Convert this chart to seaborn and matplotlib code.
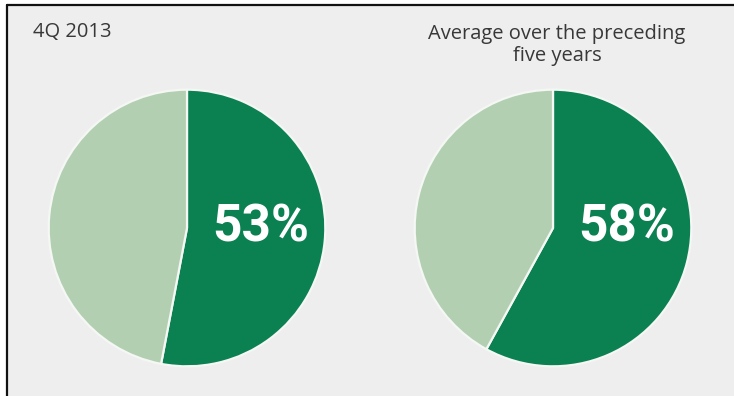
import numpy as np
import pandas as pd
import matplotlib.pyplot as plt
import seaborn as sns
from matplotlib.patches import Rectangle
from matplotlib.lines import Line2D

# values
titles = ['4Q 2013', 'Average over the preceding\nfive years']
shares = [53, 58]
colors = ['#0b8152', '#b3cfb2']

sns.set_theme(style='white')
plt.rcParams['font.family'] = ['Open Sans', 'DejaVu Sans']

W, H = 734, 396
fig = plt.figure(figsize=(W / 100, H / 100), dpi=100)
fig.patch.set_facecolor('white')

# panel background with frame on top and left
bx, by = 7 / W, 5 / H
fig.add_artist(Rectangle((bx, 0), 1 - bx, 1 - by, transform=fig.transFigure,
                         facecolor='#eeeeee', edgecolor='none', zorder=0))
fig.add_artist(Line2D([bx, 1], [1 - by, 1 - by], transform=fig.transFigure,
                      color='#111111', lw=1.6))
fig.add_artist(Line2D([bx, bx], [0, 1 - by], transform=fig.transFigure,
                      color='#111111', lw=1.6))

centres = [187, 553]
cy, r = 228, 139
title_pos = [(33, 32, 'left'), (557, 45, 'center')]

for i, (title, share) in enumerate(zip(titles, shares)):
    cx = centres[i]
    ax = fig.add_axes([(cx - r) / W, (H - cy - r) / H, 2 * r / W, 2 * r / H])
    ax.set_facecolor('none')
    ax.pie([share, 100 - share], colors=colors, startangle=90, counterclock=False,
           wedgeprops=dict(edgecolor='#f4f7f4', linewidth=1.6))
    ax.set_xlim(-1.005, 1.005)
    ax.set_ylim(-1.005, 1.005)
    ax.set_aspect('equal')
    ax.text(0.53, 0.0, f'{share}%', ha='center', va='center', color='white',
            fontsize=37, fontweight='bold', family=['Roboto', 'DejaVu Sans'])

    tx, ty, ha = title_pos[i]
    fig.text(tx / W, 1 - ty / H, title, ha=ha, va='center', fontsize=14.5,
             color='#383838', linespacing=1.2)

fig.savefig('out.png', dpi=100, facecolor=fig.get_facecolor())
